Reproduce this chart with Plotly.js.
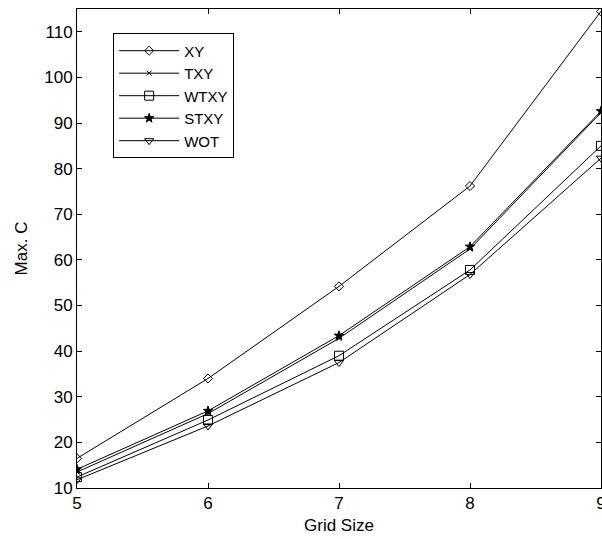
<!DOCTYPE html>
<html>
<head>
<meta charset="utf-8">
<script src="https://cdn.plot.ly/plotly-3.0.1.min.js"></script>
<style>html,body{margin:0;padding:0;background:#fff;}#chart{width:602px;height:539px;}</style>
</head>
<body>
<div id="chart"></div>
<script>
const gridSize = [5, 6, 7, 8, 9];
const seriesNames = ['XY', 'TXY', 'WTXY', 'STXY', 'WOT'];
const xyVals   = [16.5, 34.0, 54.2, 76.2, 114.5];
const txyVals  = [13.5, 26.3, 42.8, 62.4, 92.3];
const wtxyVals = [12.4, 24.9, 39.0, 57.8, 85.0];
const stxyVals = [14.1, 26.9, 43.4, 62.9, 92.6];
const wotVals  = [11.8, 23.6, 37.5, 56.8, 82.3];

const symbols = ['diamond-open', 'x-thin-open', 'square-open', 'star', 'triangle-down-open'];
const sizes = [7, 5, 9, 7, 8];
const allVals = [xyVals, txyVals, wtxyVals, stxyVals, wotVals];

const traces = allVals.map((v, i) => ({
  x: gridSize, y: v, name: seriesNames[i], type: 'scatter', mode: 'lines+markers',
  line: {color: '#000', width: 1},
  marker: {symbol: symbols[i], size: sizes[i], color: '#000', line: {color: '#000', width: 1}}
}));

const font = {family: 'Liberation Sans, Arial, sans-serif', size: 17, color: '#000'};
const layout = {
  width: 602, height: 539,
  margin: {l: 77, r: 1, t: 9, b: 51, pad: 0},
  paper_bgcolor: '#fff', plot_bgcolor: '#fff',
  font: font,
  showlegend: true,
  legend: {x: 0.069, y: 0.949, xanchor: 'left', yanchor: 'top', bgcolor: '#fff',
           bordercolor: '#000', borderwidth: 1, font: {family: font.family, size: 15, color: '#000'},
           itemwidth: 60},
  xaxis: {range: [5, 9], tickvals: gridSize, ticks: 'inside', ticklen: 5, tickcolor: '#000',
          showline: true, linecolor: '#000', linewidth: 1, mirror: 'ticks', showgrid: false, zeroline: false,
          ticklabeloverflow: 'allow',
          title: {text: 'Grid Size', font: font, standoff: 6}, tickfont: font},
  yaxis: {range: [10, 115], tickvals: [10,20,30,40,50,60,70,80,90,100,110], ticks: 'inside', ticklen: 5, tickcolor: '#000',
          showline: true, linecolor: '#000', linewidth: 1, mirror: 'ticks', showgrid: false, zeroline: false,
          title: {text: 'Max. C', font: font, standoff: 12}, tickfont: font}
};
Plotly.newPlot('chart', traces, layout, {displayModeBar: false, staticPlot: true});
</script>
</body>
</html>
